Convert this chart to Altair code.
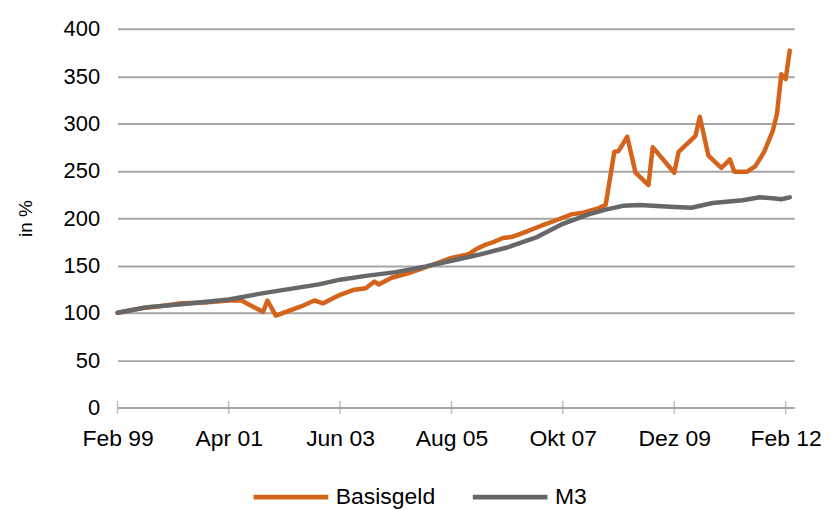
import altair as alt
import pandas as pd

# Basisgeld (index, Feb 1999 = 100)
basis_dates = ["1999-02", "1999-08", "1999-12", "2000-05", "2000-11", "2001-04", "2001-07",
               "2001-09", "2001-12", "2002-01", "2002-03", "2002-06", "2002-09", "2002-12",
               "2003-02", "2003-06", "2003-09", "2003-12", "2004-02", "2004-03", "2004-06",
               "2004-10", "2004-12", "2005-05", "2005-08", "2005-12", "2006-02", "2006-04",
               "2006-06", "2006-08", "2006-10", "2007-01", "2007-05", "2007-08", "2007-12",
               "2008-03", "2008-06", "2008-08", "2008-10", "2008-11", "2009-01", "2009-03",
               "2009-06", "2009-07", "2009-12", "2010-01", "2010-05", "2010-06", "2010-08",
               "2010-11", "2011-01", "2011-02", "2011-05", "2011-07", "2011-09", "2011-11",
               "2011-12", "2012-01", "2012-02", "2012-03"]
basis_values = [100, 105, 107, 110, 111, 113, 113,
                108, 101, 113, 97, 102, 107, 113,
                110, 119, 124, 126, 133, 130, 137,
                142, 145, 153, 158, 162, 168, 172,
                175, 179, 180, 185, 192, 197, 204,
                206, 210, 214, 270, 271, 286, 248,
                235, 275, 248, 270, 287, 307, 266,
                253, 262, 249, 249, 255, 270, 292,
                310, 352, 347, 377]

# M3 (index, Feb 1999 = 100)
m3_dates = ["1999-02", "1999-09", "2000-05", "2001-04", "2001-11", "2002-06", "2003-01",
            "2003-06", "2003-12", "2004-07", "2005-02", "2005-08", "2006-02", "2006-09",
            "2007-04", "2007-10", "2008-04", "2008-08", "2008-12", "2009-04", "2009-11",
            "2010-04", "2010-09", "2011-04", "2011-08", "2011-11", "2012-01", "2012-03"]
m3_values = [100, 106, 109, 114, 120, 125, 130,
             135, 139, 143, 149, 155, 161, 169,
             180, 194, 204, 209, 213, 214, 212,
             211, 216, 219, 222, 221, 220, 222]

tick_dates = ["1999-02", "2001-04", "2003-06", "2005-08", "2007-10", "2009-12", "2012-02"]
tick_labels = ["Feb 99", "Apr 01", "Jun 03", "Aug 05", "Okt 07", "Dez 09", "Feb 12"]

series_names = ["Basisgeld", "M3"]
series_colors = ["#D4641C", "#676767"]

rows = []
for d, v in zip(basis_dates, basis_values):
    rows.append({"date": d + "-01", "value": v, "series": "Basisgeld", "order": 0})
for d, v in zip(m3_dates, m3_values):
    rows.append({"date": d + "-01", "value": v, "series": "M3", "order": 1})
df = pd.DataFrame(rows)

ticks_df = pd.DataFrame({"date": [d + "-01" for d in tick_dates], "label": tick_labels})

FONT = "Liberation Sans"

label_map = "{" + ", ".join(
    f"'{d}-01': '{l}'" for d, l in zip(tick_dates, tick_labels)) + "}"

x_scale = alt.Scale(type="utc", domain=[alt.DateTime(year=1999, month=2, date=1, utc=True),
                                         alt.DateTime(year=2012, month=4, date=1, utc=True)])

x_axis = alt.Axis(
    values=[alt.DateTime(year=int(d[:4]), month=int(d[5:]), date=1, utc=True) for d in tick_dates],
    labelExpr=f"{label_map}[utcFormat(datum.value, '%Y-%m-%d')]",
    title=None, grid=False, ticks=False, tickSize=0, domainColor="#A6A6A6", domainWidth=2,
    labelFont=FONT, labelFontSize=23, labelColor="#000000", labelPadding=20,
    labelFlush=False, labelOverlap=False,
)

lines = alt.Chart(df).mark_line(strokeWidth=4.5, strokeJoin="round", strokeCap="round").encode(
    x=alt.X("date:T", scale=x_scale, axis=x_axis),
    y=alt.Y("value:Q",
            scale=alt.Scale(domain=[0, 400], nice=False),
            axis=alt.Axis(values=list(range(0, 401, 50)), title="in %", grid=True,
                          gridColor="#A6A6A6", gridWidth=2, domain=False, ticks=False,
                          tickSize=0, labelPadding=18,
                          labelFont=FONT, labelFontSize=22, labelColor="#000000",
                          titleFont=FONT, titleFontSize=19, titleFontWeight="normal",
                          titleColor="#000000", titlePadding=28)),
    color=alt.Color("series:N",
                    scale=alt.Scale(domain=series_names, range=series_colors),
                    legend=alt.Legend(title=None, orient="none", direction="horizontal",
                                      legendX=134, legendY=430,
                                      symbolType="stroke", symbolSize=5625,
                                      symbolStrokeWidth=5, labelFont=FONT,
                                      labelFontSize=23, labelColor="#000000",
                                      labelOffset=5, columnPadding=27, padding=0)),
    order=alt.Order("order:Q"),
    detail="series:N",
)

tick_marks = alt.Chart(ticks_df).mark_tick(orient="vertical", size=13, thickness=1.5,
                                           color="#A6A6A6").encode(
    x=alt.X("date:T", scale=x_scale),
    y=alt.datum(0),
)

chart = alt.layer(tick_marks, lines).properties(
    width=679, height=380,
    autosize=alt.AutoSizeParams(type="none"),
    padding={"left": 110, "top": 20, "right": 30, "bottom": 102},
).configure_view(stroke=None)

chart.save("out.html", embed_options={"renderer": "svg", "actions": False})
